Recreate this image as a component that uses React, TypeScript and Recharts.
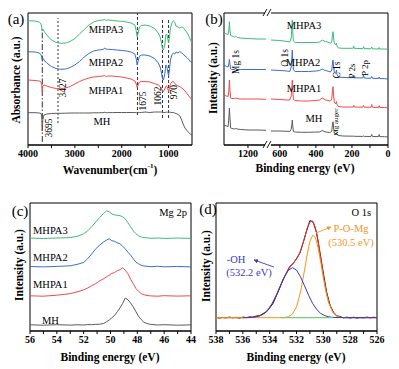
import React from 'react';
import { LineChart, Line, XAxis, YAxis, ReferenceArea, ReferenceLine } from 'recharts';

const FONT = "'Liberation Serif', 'DejaVu Serif', serif";
const C_GREEN = '#3dbb78';
const C_BLUE = '#3b6dcc';
const C_RED = '#f04a4a';
const C_GRAY = '#5c5c5c';

// ---------- (a) FTIR ----------
const ftirWavenumbers = [4000, 3850, 3760, 3720, 3705, 3695, 3685, 3660, 3600, 3500,
  3400, 3300, 3200, 3100, 3000, 2900, 2800, 2700, 2600, 2500,
  2400, 2360, 2340, 2300, 2200, 2100, 2000, 1900, 1800, 1720,
  1690, 1670, 1650, 1620, 1580, 1500, 1400, 1300, 1220, 1180,
  1150, 1130, 1110, 1080, 1060, 1040, 1020, 1000, 980, 960,
  930, 900, 870, 840, 800, 760, 720, 690, 650, 600,
  560, 530, 500];
const ftirMHPA3 = [124.3, 124, 123, 121, 117, 114, 116, 114, 110, 105,
  102.5, 101.7, 102, 103.5, 106.5, 111, 115.5, 120, 123, 124.5,
  125, 125.5, 124.7, 125, 124.7, 124, 123.7, 123, 122, 120,
  114, 108.3, 112, 118, 119.5, 120, 119, 116.5, 112, 108,
  102, 96, 95, 100, 110, 111, 107, 102, 108, 117,
  122, 124.3, 123, 119, 118, 117, 118, 117.5, 115, 112,
  108, 105, 102];
const ftirMHPA2 = [93.3, 93, 92, 90, 87, 85, 87, 85, 82, 78.5,
  76.5, 75.7, 76, 77.5, 80, 83.5, 88, 91.5, 94, 95,
  95.5, 97, 96, 95.7, 95.5, 95, 94.5, 94, 93, 91,
  86, 80, 84, 89, 90, 90, 89, 86.5, 82, 78,
  72, 66, 65, 71, 80, 79, 74, 69, 76, 85,
  90, 92, 91, 93, 92, 93.5, 92, 91, 89, 87,
  85, 83, 82];
const ftirMHPA1 = [65, 64.5, 64, 63, 59, 53, 59, 60, 59, 57.5,
  56.5, 56.3, 57, 58.5, 61, 63.5, 65.5, 67, 68, 68.5,
  69, 69.5, 68.5, 69, 69, 68.5, 68, 67, 66, 64,
  61, 57.7, 60, 63, 63.5, 63.5, 63, 61.5, 60, 58.5,
  56.5, 54, 53.5, 56, 58.5, 59, 57, 53.5, 57, 61,
  63, 63.5, 62, 60, 59, 58.5, 57, 56, 54, 51,
  48.5, 46.5, 45];
const ftirMH = [32.3, 32.3, 32, 31.5, 27, 14, 25, 30, 31, 31.5,
  31.7, 31.7, 31.8, 32, 32, 32, 32, 32, 32.2, 32.2,
  32.3, 32.8, 32.3, 32.3, 32.4, 32.5, 32.5, 32.5, 32.5, 32.5,
  32.3, 32, 32.3, 32.5, 32.5, 33, 32.5, 33, 33, 33,
  33, 32.8, 32.5, 32.5, 32.7, 32.8, 32.8, 32.8, 32.7, 32.7,
  32.5, 32.5, 32, 31.5, 30.5, 29, 25, 21, 17, 14,
  12, 10.5, 10];
const ftirTicks = [4000, 3500, 3000, 2500, 2000, 1500, 1000];
// band marker lines: position, lower, upper
const ftirBandPos = [3695, 3360, 1664, 1129, 1000];
const ftirBandLow = [3, 22, 30, 27, 27];
const ftirBandHigh = [118, 127, 132, 127, 127];

// ---------- (b) XPS survey (broken axis) ----------
const surveyLeftE = [1333, 1320, 1310, 1306, 1303, 1300, 1296, 1290, 1275, 1268, 1260, 1240, 1200, 1150, 1100];
const surveyRightE = [650, 600, 560, 545, 537, 533, 531, 529, 525, 515,
  480, 440, 400, 380, 365, 355, 345, 320, 312, 308,
  305, 302, 298, 290, 286, 283, 275, 250, 200, 192,
  190, 188, 140, 135, 132, 95, 90, 86, 52, 49,
  46, 20, 0];
const surveyMHPA3Left = [112, 111, 110.5, 115, 123.3, 115, 109.5, 109, 108, 109, 107.5, 107, 106.5, 106, 106];
const surveyMHPA3Right = [105, 104.5, 103.5, 103, 107, 120, 125, 115, 104, 102.5,
  102.5, 102.5, 102.5, 103, 105, 104, 103.5, 102, 103, 111,
  113.3, 107, 102, 100, 102, 99, 97, 96.7, 96.7, 97,
  99, 96.7, 96.4, 98.5, 96.4, 96.2, 98, 96.2, 96, 97.5,
  96, 96, 95.7];
const surveyMHPA2Left = [80, 78.5, 78, 81, 85.7, 81, 76, 75.5, 75.5, 76.5, 75.5, 75.5, 75.5, 75.5, 75.5];
const surveyMHPA2Right = [75, 74.5, 74, 73.5, 78, 89, 95, 87, 75, 73.5,
  73.5, 73.5, 74, 74.5, 76, 75, 74.5, 73, 75, 82,
  85, 79, 73, 71.5, 75, 70.5, 68, 67.5, 67.3, 67.5,
  70, 67.2, 67, 70, 67, 66.7, 68.5, 66.7, 66.5, 68,
  66.5, 66.3, 66];
const surveyMHPA1Left = [50, 49, 48.5, 55, 65, 55, 47, 46.5, 46.5, 47, 46.5, 46, 46, 46, 45.7];
const surveyMHPA1Right = [46, 45.5, 45, 45, 49, 59, 65, 57, 45.5, 44.5,
  44, 44, 44.5, 45, 47, 46, 45, 44, 46, 55,
  58.3, 50, 43, 41, 43.5, 40.5, 38.5, 38, 38, 38,
  39.5, 38, 37.8, 39.5, 37.8, 37.7, 40.5, 37.7, 37.5, 39.5,
  37.5, 37.5, 37.3];
const surveyMHLeft = [20, 19, 18.5, 27, 37, 27, 17, 16.5, 16, 16.5, 16, 15.5, 15, 15, 14.7];
const surveyMHRight = [14, 14, 13.7, 13.5, 16, 21, 25, 20, 13.5, 13,
  12.7, 12.7, 13, 13, 14.5, 13.5, 13, 12.5, 14, 21,
  23.3, 18, 12, 11, 12, 10.5, 9.5, 9, 8.8, 8.8,
  9, 8.7, 8.6, 9, 8.6, 8.5, 10.5, 8.5, 8.4, 10.5,
  8.4, 8.3, 8];
const surveyMajorTicks = [1200, 600, 400, 200, 0];
const surveyMinorTicks = [500, 300, 100];
const BREAK_SHIFT = 423; // energies above the break are shifted left by this amount
const disp = (e: number) => (e > 800 ? e - BREAK_SHIFT : e);

// ---------- (c) Mg 2p ----------
const mg2pE = [56, 55, 54, 53, 52.5, 52, 51.7, 51.4, 51.1, 50.8, 50.5, 50.3, 50.1, 49.9, 49.7, 49.5,
  49.3, 49.1, 48.9, 48.7, 48.5, 48.3, 48.1, 47.9, 47.7, 47.5, 47.2, 47, 46.5, 46, 45, 44];
const mg2pMH = [6.2, 5.8, 6.3, 5.9, 6.2, 6.0, 6.4, 6.3, 6.6, 6.8, 7.6, 9.2, 11, 13.2, 15.5, 19.2,
  23, 27.5, 33, 31.2, 28, 24, 19.2, 14.5, 11.2, 8.6, 7.1, 6.6, 6.0, 6.3, 5.8, 6.1];
const mg2pMHPA1 = [35.2, 34.8, 35.8, 37.4, 39, 41.2, 43, 45.3, 47.4, 50.2, 52.3, 54.2, 55.8, 57.6, 58.4, 60.3,
  61.2, 63.3, 60.8, 57.2, 51.8, 47.2, 42.4, 39.6, 37.3, 36.2, 35.4, 35.1, 34.8, 35.3, 34.9, 35.2];
const mg2pMHPA2 = [64.5, 64.1, 64.6, 65.2, 66.6, 68.5, 72.3, 77, 82.2, 86, 89.2, 90.8, 92.2, 90.3, 89.7, 88.2,
  87.3, 84.8, 82.2, 78.8, 75.8, 72.2, 68.8, 67.1, 65.6, 65, 64.6, 64.3, 64.7, 64.2, 64.5, 64.1];
const mg2pMHPA3 = [92.9, 92.5, 93, 93.4, 94.6, 97.2, 100.2, 104.3, 109, 113.6, 117.6, 120.3, 119.2, 117.2, 116.1, 115.7,
  115.3, 114.3, 112.1, 108.2, 104.2, 100.1, 97.2, 95.1, 94, 93.4, 93.1, 92.7, 93, 92.6, 92.9, 92.6];
const mg2pTicks = [56, 55, 54, 53, 52, 51, 50, 49, 48, 47, 46, 45, 44];

// ---------- (d) O 1s ----------
const o1sE = [538, 537.75, 537.5, 537.25, 537, 536.75, 536.5, 536.25, 536, 535.75,
  535.5, 535.25, 535, 534.75, 534.5, 534.25, 534, 533.75, 533.5, 533.25,
  533, 532.75, 532.5, 532.25, 532, 531.75, 531.5, 531.25, 531, 530.75,
  530.5, 530.25, 530, 529.75, 529.5, 529.25, 529, 528.75, 528.5, 528.25,
  528, 527.75, 527.5, 527.25, 527, 526.75, 526.5, 526.25, 526];
const o1sExp = [13.8, 12.9, 13.6, 13.1, 13.9, 13.2, 13.7, 12.8, 13.9, 13.4,
  14.1, 13.9, 15.0, 15.3, 17.4, 19.0, 23.1, 27.5, 35.2, 43.0,
  51.5, 57.9, 64.6, 67.3, 72.5, 77.8, 88.5, 100.2, 110.5, 108.7,
  98.1, 78.5, 57.9, 38.8, 25.7, 18.9, 15.2, 14.5, 13.1, 13.9,
  13.0, 13.8, 12.9, 13.6, 13.1, 13.9, 13.2, 13.8, 13.3];
const o1sFitE = [538, 536, 535.3, 535, 534.7, 534.4, 534.1, 533.8, 533.5, 533.2, 532.9, 532.6, 532.3, 532, 531.7,
  531.4, 531.2, 531, 530.8, 530.6, 530.4, 530.2, 530, 529.8, 529.6, 529.3, 529, 528.7, 528.3, 526];
const o1sFit = [13.3, 13.3, 13.6, 14.2, 15.4, 17.6, 21.6, 27.7, 35.8, 45.2, 54.4, 61.9, 66.9, 71.7, 79.8,
  92.9, 102.4, 109.1, 110.1, 103.7, 90.6, 73.4, 55.8, 40.5, 29, 19, 14.9, 13.6, 13.3, 13.3];
const o1sOHE = [536, 535.3, 535, 534.7, 534.4, 534.1, 533.8, 533.5, 533.2, 532.9, 532.6, 532.3, 532, 531.7,
  531.4, 531.1, 530.8, 530.5, 530.2, 529.9, 529.6, 529.3, 528.5, 526];
const o1sOH = [13.3, 13.6, 14.2, 15.4, 17.6, 21.6, 27.7, 35.8, 45.2, 54.2, 60.9, 63.3, 60.9, 54.2,
  45.2, 35.8, 27.7, 21.6, 17.6, 15.4, 14.2, 13.6, 13.3, 13.3];
const o1sPOME = [538, 533, 532.9, 532.6, 532.3, 532, 531.7, 531.4, 531.2, 531, 530.8, 530.6, 530.4, 530.2,
  530, 529.8, 529.6, 529.3, 529, 528.7, 528.3];
const o1sPOM = [13.3, 13.3, 13.5, 14.3, 16.9, 24.1, 38.9, 61, 76.8, 89.5, 95.7, 93.6, 83.8, 69.1,
  53.1, 38.9, 28.1, 18.7, 14.9, 13.6, 13.3];
const o1sBgE = [533.2, 529.3];
const o1sBg = [13.3, 13.3];
const o1sTicks = [538, 537, 536, 535, 534, 533, 532, 531, 530, 529, 528, 527, 526];

const zip = (xs: number[], ys: number[], fx: (v: number) => number = (v) => v) =>
  xs.map((x, i) => ({ x: fx(x), y: ys[i] }));

const tickStyle = { fontSize: 10, fontWeight: 700, fill: '#000', fontFamily: FONT, style: { fontFamily: FONT } };
const axisProps = {
  type: 'number' as const,
  dataKey: 'x',
  reversed: true,
  allowDataOverflow: true,
  interval: 0 as const,
  tickSize: 3,
  tick: tickStyle,
  axisLine: { stroke: '#000', strokeWidth: 1 },
  tickLine: { stroke: '#000', strokeWidth: 1 },
};

const L = (data: { x: number; y: number }[], color: string, w = 1, key?: string) => (
  <Line key={key} data={data} dataKey="y" stroke={color} strokeWidth={w} dot={false}
    isAnimationActive={false} type="linear" legendType="none" />
);

const Txt = ({ x, y, children, size = 11, weight = 400, fill = '#000', rot = 0, anchor = 'middle' }: any) => (
  <text x={x} y={y} fontSize={size} fontWeight={weight} fill={fill} textAnchor={anchor}
    dominantBaseline="central" style={{ fontFamily: FONT }}
    transform={rot ? `rotate(${rot} ${x} ${y})` : undefined}>{children}</text>
);

export default function App() {
  const box = (left: number, top: number): React.CSSProperties => ({ position: 'absolute', left, top });
  const bandDash = ['6 2 1.5 2', '2 2', '3 2', '3 2', '3 2'];
  return (
    <div style={{ position: 'absolute', left: 0, top: 0, width: 399, height: 369, background: '#fff', overflow: 'hidden', fontFamily: FONT }}>
      {/* (a) */}
      <div style={box(0, 0)}>
        <LineChart width={199} height={185} margin={{ top: 13, right: 7, left: 28, bottom: 0 }}>
          <XAxis {...axisProps} domain={[500, 4000]} ticks={ftirTicks} height={40}
            tickFormatter={(v: number) => (v % 1000 === 0 ? String(v) : '')} />
          <YAxis hide type="number" domain={[0, 132]} />
          <ReferenceArea x1={500} x2={4000} y1={0} y2={132} fill="none" fillOpacity={0} stroke="#000" strokeWidth={1} />
          {ftirBandPos.map((p, i) => (
            <ReferenceLine key={'b' + i} segment={[{ x: p, y: ftirBandLow[i] }, { x: p, y: ftirBandHigh[i] }]}
              stroke="#333" strokeWidth={1} strokeDasharray={bandDash[i]} />
          ))}
          {L(zip(ftirWavenumbers, ftirMH), C_GRAY, 1, 'mh')}
          {L(zip(ftirWavenumbers, ftirMHPA1), C_RED, 1, 'p1')}
          {L(zip(ftirWavenumbers, ftirMHPA2), C_BLUE, 1, 'p2')}
          {L(zip(ftirWavenumbers, ftirMHPA3), C_GREEN, 1, 'p3')}
        </LineChart>
      </div>
      {/* (b) */}
      <div style={box(199, 0)}>
        <LineChart width={200} height={185} margin={{ top: 13, right: 11, left: 25, bottom: 0 }}>
          <XAxis {...axisProps} domain={[0, 910]} height={40}
            ticks={[...surveyMajorTicks, ...surveyMinorTicks].map(disp).sort((a, b) => a - b)}
            tickFormatter={(v: number) => {
              const e = v > 700 ? v + BREAK_SHIFT : v;
              return surveyMajorTicks.includes(e) ? String(e) : '';
            }} />
          <YAxis hide type="number" domain={[0, 132]} />
          <ReferenceArea x1={0} x2={910} y1={0} y2={132} fill="none" fillOpacity={0} stroke="#000" strokeWidth={1} />
          {L(zip(surveyLeftE, surveyMHLeft, disp), C_GRAY, 1, 'a1')}
          {L(zip(surveyRightE, surveyMHRight, disp), C_GRAY, 1, 'a2')}
          {L(zip(surveyLeftE, surveyMHPA1Left, disp), C_RED, 1, 'b1')}
          {L(zip(surveyRightE, surveyMHPA1Right, disp), C_RED, 1, 'b2')}
          {L(zip(surveyLeftE, surveyMHPA2Left, disp), C_BLUE, 1, 'c1')}
          {L(zip(surveyRightE, surveyMHPA2Right, disp), C_BLUE, 1, 'c2')}
          {L(zip(surveyLeftE, surveyMHPA3Left, disp), C_GREEN, 1, 'd1')}
          {L(zip(surveyRightE, surveyMHPA3Right, disp), C_GREEN, 1, 'd2')}
        </LineChart>
      </div>
      {/* (c) */}
      <div style={box(0, 185)}>
        <LineChart width={199} height={184} margin={{ top: 18, right: 8, left: 30, bottom: 0 }}>
          <XAxis {...axisProps} domain={[44, 56]} ticks={mg2pTicks} height={38}
            tickFormatter={(v: number) => (v % 2 === 0 ? String(v) : '')} />
          <YAxis hide type="number" domain={[0, 128]} />
          <ReferenceArea x1={44} x2={56} y1={0} y2={128} fill="none" fillOpacity={0} stroke="#000" strokeWidth={1} />
          {L(zip(mg2pE, mg2pMH), C_GRAY, 1, 'mh')}
          {L(zip(mg2pE, mg2pMHPA1), C_RED, 1, 'p1')}
          {L(zip(mg2pE, mg2pMHPA2), C_BLUE, 1, 'p2')}
          {L(zip(mg2pE, mg2pMHPA3), C_GREEN, 1, 'p3')}
        </LineChart>
      </div>
      {/* (d) */}
      <div style={box(199, 185)}>
        <LineChart width={200} height={184} margin={{ top: 18, right: 22, left: 17, bottom: 0 }}>
          <XAxis {...axisProps} domain={[526, 538]} ticks={o1sTicks} height={38}
            tickFormatter={(v: number) => (v % 2 === 0 ? String(v) : '')} />
          <YAxis hide type="number" domain={[0, 128]} />
          <ReferenceArea x1={526} x2={538} y1={0} y2={128} fill="none" fillOpacity={0} stroke="#000" strokeWidth={1} />
          {L(zip(o1sE, o1sExp), '#111111', 1, 'exp')}
          {L(zip(o1sFitE, o1sFit), '#e8302c', 1, 'fit')}
          {L(zip(o1sPOME, o1sPOM), '#f7941d', 1, 'pom')}
          {L(zip(o1sOHE, o1sOH), '#3a3ab4', 1, 'oh')}
          {L(zip(o1sBgE, o1sBg), '#74cc74', 1.2, 'bg')}
        </LineChart>
      </div>
      {/* text overlay */}
      <svg width={399} height={369} style={{ position: 'absolute', left: 0, top: 0, pointerEvents: 'none', fontFamily: FONT }}>
        <defs>
          <marker id="ahBlue" viewBox="0 0 10 10" refX="9" refY="5" markerWidth="5" markerHeight="5" orient="auto">
            <path d="M0,0 L10,5 L0,10 z" fill="#3a3ab4" />
          </marker>
          <marker id="ahOrange" viewBox="0 0 10 10" refX="9" refY="5" markerWidth="5" markerHeight="5" orient="auto">
            <path d="M0,0 L10,5 L0,10 z" fill="#f7941d" />
          </marker>
        </defs>
        {/* panel letters */}
        <Txt x={16} y={19} size={15}>(a)</Txt>
        <Txt x={214} y={19} size={15}>(b)</Txt>
        <Txt x={20} y={211} size={15}>(c)</Txt>
        <Txt x={208} y={209} size={15}>(d)</Txt>
        {/* axis titles */}
        <Txt x={16} y={80} size={11.5} weight={700} rot={-90}>Absorbance (a.u.)</Txt>
        <Txt x={213} y={78} size={11.5} weight={700} rot={-90}>Intensity (a.u.)</Txt>
        <Txt x={19} y={265} size={11.5} weight={700} rot={-90}>Intensity (a.u.)</Txt>
        <Txt x={206} y={266} size={11.5} weight={700} rot={-90}>Intensity (a.u.)</Txt>
        <text x={110} y={170} fontSize={11.5} fontWeight={700} textAnchor="middle" dominantBaseline="central" style={{ fontFamily: FONT }}>
          Wavenumber(cm<tspan dy={-4} fontSize={7}>-1</tspan><tspan dy={4}>)</tspan>
        </text>
        <Txt x={305} y={168} size={11.5} weight={700}>Binding energy (eV)</Txt>
        <Txt x={110} y={357} size={11.5} weight={700}>Binding energy (eV)</Txt>
        <Txt x={296} y={357} size={11.5} weight={700}>Binding energy (eV)</Txt>
        {/* (a) labels */}
        <Txt x={106} y={29} size={10.5}>MHPA3</Txt>
        <Txt x={106} y={62} size={10.5}>MHPA2</Txt>
        <Txt x={106} y={90} size={10.5}>MHPA1</Txt>
        <Txt x={102} y={121} size={10.5}>MH</Txt>
        <Txt x={49} y={128} size={9.5} rot={-90}>3695</Txt>
        <Txt x={63} y={88} size={9.5} rot={-90}>3427</Txt>
        <Txt x={143} y={101} size={9.5} rot={-90}>1675</Txt>
        <Txt x={158} y={96} size={9.5} rot={-90}>1062</Txt>
        <Txt x={174} y={92} size={9.5} rot={-90}>970</Txt>
        {/* (b) labels */}
        <Txt x={304} y={25} size={10.5}>MHPA3</Txt>
        <Txt x={303} y={62} size={10.5}>MHPA2</Txt>
        <Txt x={304} y={88} size={10.5}>MHPA1</Txt>
        <Txt x={314} y={118} size={10.5}>MH</Txt>
        <Txt x={236} y={62} size={9.5} rot={-90}>Mg 1s</Txt>
        <Txt x={285} y={58} size={9.5} rot={-90}>O 1s</Txt>
        <Txt x={337} y={70} size={9.5} rot={-90}>C 1s</Txt>
        <Txt x={352} y={71} size={9} rot={-90}>P 2s</Txt>
        <Txt x={365} y={68} size={9} rot={-90}>P 2p</Txt>
        <Txt x={336} y={122} size={7} rot={-90}>Mg auger</Txt>
        {/* axis break marks */}
        <rect x={265} y={10} width={6} height={5} fill="#fff" />
        <rect x={265} y={142} width={6} height={5} fill="#fff" />
        <line x1={263} y1={16} x2={267} y2={9} stroke="#000" strokeWidth={0.9} />
        <line x1={267} y1={16} x2={271} y2={9} stroke="#000" strokeWidth={0.9} />
        <line x1={263} y1={148} x2={267} y2={141} stroke="#000" strokeWidth={0.9} />
        <line x1={267} y1={148} x2={271} y2={141} stroke="#000" strokeWidth={0.9} />
        {/* (c) labels */}
        <Txt x={33} y={230} size={10.5} anchor="start">MHPA3</Txt>
        <Txt x={33} y={257} size={10.5} anchor="start">MHPA2</Txt>
        <Txt x={33} y={284} size={10.5} anchor="start">MHPA1</Txt>
        <Txt x={42} y={320} size={10.5} anchor="start">MH</Txt>
        <Txt x={187} y={212} size={10.5} anchor="end">Mg 2p</Txt>
        {/* (d) labels */}
        <Txt x={371} y={212} size={10.5} anchor="end">O 1s</Txt>
        <Txt x={236} y={259} size={10.5} fill="#3a3ab4">-OH</Txt>
        <Txt x={249} y={272} size={10.5} fill="#3a3ab4">(532.2 eV)</Txt>
        <Txt x={351} y={228} size={10.5} fill="#f7941d">P-O-Mg</Txt>
        <Txt x={351} y={242} size={10.5} fill="#f7941d">(530.5 eV)</Txt>
        <line x1={274} y1={267} x2={254} y2={260} stroke="#3a3ab4" strokeWidth={0.9} markerEnd="url(#ahBlue)" />
        <line x1={316} y1={233} x2={331} y2={227} stroke="#f7941d" strokeWidth={0.9} markerEnd="url(#ahOrange)" />
      </svg>
    </div>
  );
}
